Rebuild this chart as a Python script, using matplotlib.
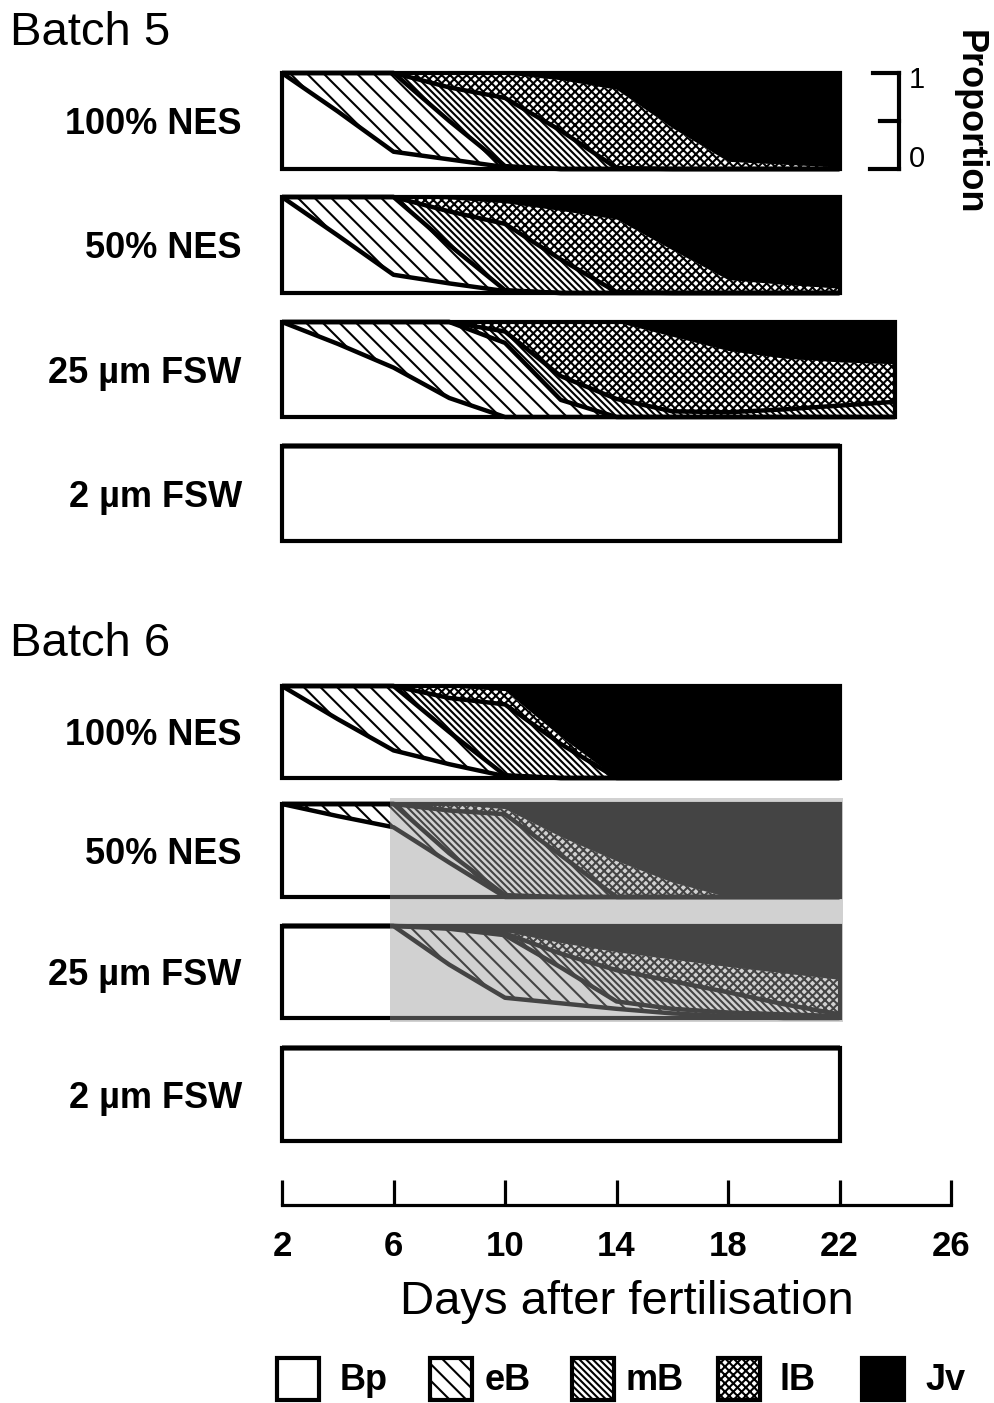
import numpy as np
import matplotlib as mpl
import matplotlib.pyplot as plt
from matplotlib.patches import Rectangle

W, H = 994, 1403
mpl.rcParams['font.family'] = ['Liberation Sans', 'DejaVu Sans']
mpl.rcParams['hatch.linewidth'] = 1.5

# ---------------------------------------------------------------- data
stages = ["Bp", "eB", "mB", "lB", "Jv"]
days = [2, 4, 6, 8, 10, 12, 14, 16, 18, 20, 22]
days_long = [2, 4, 6, 8, 10, 12, 14, 16, 18, 20, 22, 24]
tick_days = [2, 6, 10, 14, 18, 22, 26]

b5_nes100 = {
    "Bp": [1.00, 0.60, 0.18, 0.10, 0.02, 0, 0, 0, 0, 0, 0],
    "eB": [0, 0.40, 0.82, 0.40, 0.01, 0, 0, 0, 0, 0, 0],
    "mB": [0, 0, 0, 0.35, 0.71, 0.40, 0.01, 0, 0, 0, 0],
    "lB": [0, 0, 0, 0.15, 0.25, 0.53, 0.82, 0.43, 0.08, 0.05, 0.02],
    "Jv": [0, 0, 0, 0, 0.01, 0.07, 0.17, 0.57, 0.92, 0.95, 0.98],
}
b5_nes50 = {
    "Bp": [1.00, 0.60, 0.19, 0.10, 0.02, 0, 0, 0, 0, 0, 0],
    "eB": [0, 0.40, 0.81, 0.40, 0.01, 0, 0, 0, 0, 0, 0],
    "mB": [0, 0, 0, 0.35, 0.69, 0.35, 0.01, 0, 0, 0, 0],
    "lB": [0, 0, 0, 0.13, 0.22, 0.51, 0.76, 0.45, 0.14, 0.09, 0.05],
    "Jv": [0, 0, 0, 0.02, 0.06, 0.14, 0.23, 0.55, 0.86, 0.91, 0.95],
}
b5_fsw25 = {
    "Bp": [1.00, 0.77, 0.52, 0.20, 0, 0, 0, 0, 0, 0, 0, 0],
    "eB": [0, 0.23, 0.48, 0.80, 0.78, 0.18, 0, 0, 0, 0, 0, 0],
    "mB": [0, 0, 0, 0, 0.12, 0.25, 0.19, 0.06, 0.05, 0.08, 0.12, 0.16],
    "lB": [0, 0, 0, 0, 0.10, 0.57, 0.81, 0.79, 0.65, 0.54, 0.46, 0.40],
    "Jv": [0, 0, 0, 0, 0, 0, 0, 0.15, 0.30, 0.38, 0.42, 0.44],
}
b5_fsw2 = {
    "Bp": [1.0] * 11,
    "eB": [0.0] * 11,
    "mB": [0.0] * 11,
    "lB": [0.0] * 11,
    "Jv": [0.0] * 11,
}
b6_nes100 = {
    "Bp": [1.00, 0.64, 0.30, 0.15, 0.02, 0, 0, 0, 0, 0, 0],
    "eB": [0, 0.36, 0.70, 0.35, 0.01, 0, 0, 0, 0, 0, 0],
    "mB": [0, 0, 0, 0.37, 0.77, 0.37, 0, 0, 0, 0, 0],
    "lB": [0, 0, 0, 0.12, 0.15, 0.08, 0, 0, 0, 0, 0],
    "Jv": [0, 0, 0, 0.01, 0.05, 0.55, 1.00, 1.00, 1.00, 1.00, 1.00],
}
b6_nes50 = {
    "Bp": [1.00, 0.87, 0.75, 0.37, 0, 0, 0, 0, 0, 0, 0],
    "eB": [0, 0.13, 0.25, 0.10, 0.02, 0, 0, 0, 0, 0, 0],
    "mB": [0, 0, 0, 0.46, 0.87, 0.45, 0, 0, 0, 0, 0],
    "lB": [0, 0, 0, 0.07, 0.06, 0.20, 0.39, 0.16, 0, 0, 0],
    "Jv": [0, 0, 0, 0, 0.05, 0.35, 0.61, 0.84, 1.00, 1.00, 1.00],
}
b6_fsw25 = {
    "Bp": [1.00, 1.00, 1.00, 0.58, 0.22, 0.16, 0.10, 0.05, 0.02, 0, 0],
    "eB": [0, 0, 0, 0.39, 0.68, 0.39, 0.08, 0.05, 0.04, 0.04, 0.02],
    "mB": [0, 0, 0, 0.02, 0.02, 0.15, 0.34, 0.30, 0.22, 0.11, 0.02],
    "lB": [0, 0, 0, 0, 0.02, 0.12, 0.20, 0.24, 0.28, 0.34, 0.38],
    "Jv": [0, 0, 0, 0.01, 0.06, 0.18, 0.28, 0.36, 0.44, 0.51, 0.58],
}
b6_fsw2 = {
    "Bp": [1.0] * 11,
    "eB": [0.0] * 11,
    "mB": [0.0] * 11,
    "lB": [0.0] * 11,
    "Jv": [0.0] * 11,
}

# ---------------------------------------------------------------- styles
face = {"Bp": "white", "eB": "white", "mB": "white", "lB": "white", "Jv": "black"}
hatch = {"Bp": None, "eB": "\\\\", "mB": "\\\\\\\\\\", "lB": "xxxx", "Jv": None}

fig = plt.figure(figsize=(W / 100, H / 100), dpi=100)
fig.patch.set_facecolor("white")


def px_axes(left, top, right, bottom):
    return fig.add_axes([left / W, 1 - bottom / H, (right - left) / W, (bottom - top) / H])


X0, X1 = 282, 951   # pixel span of days 2 .. 26

# (label, days, data, top, height)
panels = [
    ("100% NES", days, b5_nes100, 73, 96),
    ("50% NES", days, b5_nes50, 197, 96),
    ("25 µm FSW", days_long, b5_fsw25, 322, 95),
    ("2 µm FSW", days, b5_fsw2, 446, 95),
    ("100% NES", days, b6_nes100, 686, 92),
    ("50% NES", days, b6_nes50, 804, 93),
    ("25 µm FSW", days, b6_fsw25, 926, 92),
    ("2 µm FSW", days, b6_fsw2, 1048, 93),
]

panel_axes = []
for label, d, data, top, h in panels:
    ax = px_axes(X0, top, X1, top + h)
    ax.set_xlim(2, 26)
    ax.set_ylim(0, 1)
    ax.axis("off")
    vals = np.array([data[s] for s in stages], dtype=float)
    vals = vals / vals.sum(axis=0)
    cum = np.vstack([np.zeros(len(d)), np.cumsum(vals, axis=0)])
    for i, s in enumerate(stages):
        ax.fill_between(d, cum[i], cum[i + 1], facecolor=face[s],
                        edgecolor="black", hatch=hatch[s], linewidth=0)
    for i in (1, 2, 3):
        ax.plot(d, cum[i], color="black", lw=3.2, solid_joinstyle="round",
                solid_capstyle="butt", clip_on=False, zorder=4)
    ax.add_patch(Rectangle((2, 0), d[-1] - 2, 1, fill=False, lw=3.0,
                           edgecolor="black", clip_on=False, zorder=5))
    ax.text(-0.06, 0.46, label, transform=ax.get_yaxis_transform(),
            ha="right", va="center", fontsize=26, fontweight="bold")
    panel_axes.append(ax)

# proportion scale bar beside the first panel
sb = panel_axes[0]
sb.plot([24.13, 24.13], [0, 1], color="black", lw=3, clip_on=False, solid_capstyle="projecting")
sb.plot([23.2, 24.13], [1, 1], color="black", lw=3, clip_on=False)
sb.plot([23.45, 24.13], [0.5, 0.5], color="black", lw=3, clip_on=False)
sb.plot([23.1, 24.13], [0, 0], color="black", lw=3, clip_on=False)

# day axis
axb = px_axes(X0, 1170, X1, 1205)
axb.set_xlim(2, 26)
axb.set_ylim(0, 1)
for sp in ("left", "right", "top"):
    axb.spines[sp].set_visible(False)
axb.spines["bottom"].set_linewidth(2.3)
axb.set_yticks([])
axb.set_xticks(tick_days)
axb.set_xticklabels([str(t) for t in tick_days], fontsize=25, fontweight="bold")
axb.tick_params(axis="x", direction="in", length=18, width=2.3, pad=18)
axb.patch.set_alpha(0)

# overlay in pixel coordinates for titles, legend and the grey band
ov = fig.add_axes([0, 0, 1, 1])
ov.set_xlim(0, W)
ov.set_ylim(H, 0)
ov.axis("off")

ov.text(10, 33, "Batch 5", fontsize=34, ha="left", va="center")
ov.text(10, 644, "Batch 6", fontsize=34, ha="left", va="center")
ov.text(627, 1302, "Days after fertilisation", fontsize=34, ha="center", va="center")
ov.text(969, 122, "Proportion", fontsize=26, fontweight="bold", rotation=-90,
        ha="center", va="center")
ov.text(909, 80, "1", fontsize=21, ha="left", va="center")
ov.text(909, 159, "0", fontsize=21, ha="left", va="center")

# legend
legend_x = [277, 430, 572, 718, 862]
label_x = [340, 485, 625, 780, 925]
for s, bx, tx in zip(stages, legend_x, label_x):
    ov.add_patch(Rectangle((bx, 1358), 42, 42, facecolor=face[s], edgecolor="black",
                           hatch=hatch[s], lw=3.0))
    ov.text(tx, 1381, s, fontsize=26, fontweight="bold", ha="left", va="center")

# grey band across the lower-middle panels
ov.add_patch(Rectangle((390, 798), 453, 224, facecolor=(0.6, 0.6, 0.6),
                       edgecolor="none", alpha=0.45, zorder=10))

fig.savefig("out.png", dpi=100, facecolor="white")
